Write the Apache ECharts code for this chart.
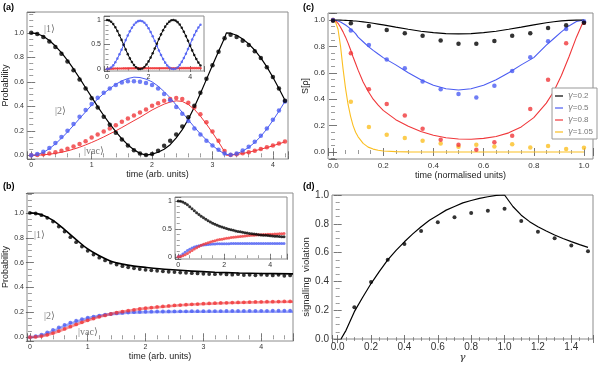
<!DOCTYPE html>
<html>
<head>
<meta charset="utf-8">
<script src="https://cdn.jsdelivr.net/npm/echarts@6/dist/echarts.min.js"></script>
<style>
html, body { margin: 0; padding: 0; background: #fff; }
#chart { width: 598px; height: 369px; }
</style>
</head>
<body>
<div id="chart"></div>
<script>
// ---- panel (a): theory lines ----
var aLineT = [0,0.1,0.2,0.3,0.4,0.5,0.6,0.7,0.8,0.9,1.0,1.1,1.2,1.3,1.4,1.5,1.6,1.7,1.8,1.9,2.0,2.1,2.2,2.3,2.4,2.5,2.6,2.7,2.8,2.9,3.0,3.1,3.2,3.23,3.3,3.4,3.5,3.6,3.7,3.8,3.9,4.0,4.1,4.2];
var aLine1 = [1.0,0.993,0.972,0.937,0.892,0.838,0.775,0.705,0.63,0.552,
  0.475,0.398,0.325,0.257,0.193,0.135,0.085,0.045,0.016,0.002,
  0.01,0.025,0.05,0.087,0.143,0.21,0.295,0.395,0.505,0.62,
  0.735,0.848,0.958,1.0,
  0.997,0.98,0.95,0.91,0.858,0.795,0.722,0.637,0.546,0.45];
var aLine2 = [0,0.006,0.024,0.054,0.093,0.14,0.19,0.245,0.3,0.355,
  0.41,0.46,0.505,0.545,0.58,0.608,0.627,0.638,0.635,0.622,
  0.6,0.565,0.52,0.47,0.41,0.35,0.29,0.23,0.175,0.125,
  0.08,0.042,0.012,0.006,
  0.001,0.012,0.035,0.065,0.105,0.155,0.215,0.285,0.36,0.44];
var aLineVac = [0,0.001,0.004,0.009,0.016,0.025,0.036,0.05,0.066,0.085,
  0.105,0.127,0.15,0.175,0.2,0.227,0.255,0.283,0.31,0.34,
  0.37,0.395,0.418,0.435,0.445,0.44,0.415,0.375,0.32,0.255,
  0.185,0.11,0.03,0,
  0.002,0.007,0.015,0.025,0.037,0.05,0.063,0.078,0.094,0.11];
// panel (a): measured points
var aDotT = [0,0.1,0.2,0.3,0.4,0.5,0.6,0.7,0.8,0.9,1.0,1.1,1.2,1.3,1.4,1.5,1.6,1.7,1.8,1.9,2.0,2.1,2.2,2.3,2.4,2.5,2.6,2.7,2.8,2.9,3.0,3.1,3.2,3.3,3.4,3.5,3.6,3.7,3.8,3.9,4.0,4.1,4.2];
var aDot1 = [1.0,0.99,0.965,0.93,0.885,0.83,0.765,0.695,0.62,0.545,
  0.465,0.39,0.315,0.25,0.185,0.13,0.08,0.042,0.015,0.003,
  0.01,0.038,0.078,0.12,0.17,0.235,0.31,0.405,0.51,0.625,
  0.735,0.845,0.955,0.985,0.965,0.935,0.9,0.85,0.795,0.72,
  0.64,0.545,0.445];
var aDot2 = [0,0.01,0.03,0.06,0.1,0.15,0.2,0.255,0.315,0.37,
  0.42,0.47,0.51,0.545,0.575,0.595,0.605,0.605,0.6,0.59,
  0.575,0.545,0.5,0.45,0.395,0.34,0.28,0.22,0.17,0.12,
  0.08,0.045,0.015,0.005,0.015,0.04,0.07,0.11,0.16,0.22,
  0.29,0.365,0.44];
var aDotVac = [0,0.003,0.008,0.015,0.025,0.038,0.053,0.072,0.093,0.115,
  0.145,0.17,0.195,0.22,0.245,0.275,0.3,0.325,0.35,0.375,
  0.405,0.425,0.445,0.46,0.468,0.46,0.43,0.39,0.335,0.27,
  0.195,0.118,0.036,0.003,0.008,0.016,0.026,0.038,0.052,0.066,
  0.08,0.097,0.113];
// inset of (a)
var aInT = [0,0.1,0.2,0.3,0.4,0.5,0.6,0.7,0.8,0.9,1.0,1.1,1.2,1.3,1.4,1.5,1.6,1.7,1.8,1.9,2.0,2.1,2.2,2.3,2.4,2.5,2.6,2.7,2.8,2.9,3.0,3.1,3.2,3.3,3.4,3.5,3.6,3.7,3.8,3.9,4.0,4.1,4.2,4.3,4.4,4.5];
var aIn1 = [1,0.99,0.961,0.915,0.852,0.775,0.688,0.593,0.495,0.397,
  0.303,0.217,0.142,0.08,0.035,0.008,0.0,0.012,0.042,0.091,
  0.155,0.233,0.321,0.417,0.515,0.612,0.705,0.79,0.863,0.922,
  0.965,0.993,1.0,0.986,0.955,0.906,0.84,0.76,0.671,0.575,
  0.476,0.379,0.287,0.203,0.131,0.073];
var aIn2 = [0,0.005,0.03,0.075,0.137,0.213,0.3,0.394,0.491,0.589,
  0.682,0.767,0.842,0.903,0.948,0.975,0.983,0.972,0.943,0.895,
  0.831,0.754,0.667,0.572,0.475,0.378,0.286,0.202,0.13,0.072,
  0.03,0.005,0.0,0.005,0.032,0.08,0.145,0.224,0.312,0.407,
  0.505,0.601,0.692,0.775,0.846,0.903];
var aInVac = [0,0.003,0.006,0.008,0.01,0.011,0.012,0.012,0.013,0.013,
  0.013,0.014,0.014,0.014,0.015,0.015,0.015,0.015,0.015,0.015,
  0.016,0.016,0.016,0.016,0.016,0.016,0.016,0.017,0.017,0.017,
  0.017,0.017,0.017,0.017,0.017,0.017,0.018,0.018,0.018,0.018,
  0.018,0.018,0.018,0.018,0.018,0.018];

// ---- panel (b) ----
var bLineT = [0,0.2,0.4,0.6,0.8,1.0,1.2,1.4,1.6,1.8,2.0,2.4,2.8,3.2,3.6,4.0,4.55];
var bLine1 = [1.0,0.985,0.94,0.865,0.785,0.71,0.655,0.612,0.588,0.572,0.562,0.545,0.532,0.523,0.517,0.513,0.51];
var bLine2 = [0,0.015,0.05,0.09,0.125,0.152,0.172,0.185,0.194,0.199,0.202,0.204,0.205,0.205,0.205,0.205,0.205];
var bLineVac = [0,0.008,0.032,0.066,0.102,0.136,0.165,0.188,0.206,0.22,0.232,0.25,0.263,0.272,0.278,0.282,0.286];
var bDotT = [0,0.1,0.2,0.3,0.4,0.5,0.6,0.7,0.8,0.9,1.0,1.1,1.2,1.3,1.4,1.5,1.6,1.7,1.8,1.9,2.0,2.1,2.2,2.3,2.4,2.5,2.6,2.7,2.8,2.9,3.0,3.1,3.2,3.3,3.4,3.5,3.6,3.7,3.8,3.9,4.0,4.1,4.2,4.3,4.4,4.5];
var bDot1 = [1.0,0.995,0.982,0.96,0.93,0.89,0.85,0.805,0.765,0.73,
  0.695,0.665,0.64,0.618,0.6,0.585,0.572,0.562,0.555,0.548,
  0.542,0.538,0.535,0.53,0.527,0.524,0.52,0.518,0.515,0.513,
  0.51,0.508,0.507,0.51,0.505,0.503,0.507,0.5,0.502,0.498,
  0.503,0.5,0.497,0.502,0.494,0.497];
var bDot2 = [0,0.008,0.022,0.04,0.06,0.08,0.1,0.118,0.133,0.146,
  0.157,0.166,0.174,0.181,0.187,0.192,0.196,0.199,0.202,0.204,
  0.205,0.206,0.207,0.207,0.208,0.208,0.209,0.209,0.21,0.21,
  0.21,0.211,0.211,0.211,0.212,0.212,0.212,0.212,0.213,0.213,
  0.213,0.213,0.214,0.214,0.214,0.214];
var bDotVac = [0,0.003,0.01,0.02,0.034,0.05,0.067,0.085,0.103,0.12,
  0.136,0.15,0.164,0.176,0.187,0.197,0.206,0.214,0.221,0.228,
  0.234,0.239,0.244,0.248,0.252,0.256,0.259,0.262,0.265,0.267,
  0.27,0.272,0.274,0.276,0.277,0.279,0.28,0.281,0.283,0.284,
  0.285,0.286,0.286,0.287,0.288,0.288];
// inset of (b)
var bInT = [0,0.1,0.2,0.3,0.4,0.5,0.6,0.7,0.8,0.9,1.0,1.1,1.2,1.3,1.4,1.5,1.6,1.7,1.8,1.9,2.0,2.1,2.2,2.3,2.4,2.5,2.6,2.7,2.8,2.9,3.0,3.1,3.2,3.3,3.4,3.5,3.6,3.7,3.8,3.9,4.0,4.1,4.2,4.3,4.4,4.5,4.6];
var bIn1 = [1.0,0.995,0.98,0.958,0.93,0.895,0.86,0.825,0.79,0.758,
  0.727,0.698,0.67,0.645,0.622,0.601,0.582,0.564,0.548,0.533,
  0.519,0.506,0.494,0.483,0.473,0.463,0.454,0.446,0.438,0.431,
  0.424,0.418,0.412,0.406,0.401,0.396,0.391,0.387,0.383,0.379,
  0.375,0.372,0.369,0.366,0.363,0.36,0.357];
var bIn2 = [0,0.02,0.05,0.08,0.11,0.135,0.157,0.174,0.188,0.198,
  0.206,0.212,0.217,0.221,0.224,0.227,0.229,0.231,0.232,0.233,
  0.234,0.235,0.235,0.236,0.236,0.236,0.237,0.237,0.237,0.237,
  0.237,0.237,0.238,0.238,0.238,0.238,0.238,0.238,0.238,0.238,
  0.238,0.238,0.238,0.238,0.238,0.238,0.238];
var bInVac = [0,0.005,0.018,0.037,0.06,0.087,0.113,0.138,0.162,0.185,
  0.205,0.222,0.238,0.252,0.265,0.277,0.288,0.298,0.307,0.315,
  0.323,0.33,0.337,0.343,0.349,0.354,0.359,0.364,0.368,0.372,
  0.376,0.38,0.383,0.386,0.389,0.392,0.394,0.397,0.399,0.401,
  0.403,0.405,0.407,0.409,0.411,0.413,0.415];

// ---- panel (c) ----
var cNames = ['γ=0.2', 'γ=0.5', 'γ=0.8', 'γ=1.05'];
var cLineT = [0,0.01,0.02,0.03,0.04,0.05,0.06,0.07,0.08,0.09,0.1,0.12,0.14,0.16,0.18,0.2,0.25,0.3,0.35,0.4,0.45,0.5,0.55,0.6,0.65,0.7,0.75,0.8,0.85,0.88,0.91,0.94,0.97,1.0];
var cLine02 = [1.0,1.0,1.0,0.999,0.998,0.997,0.996,0.995,0.993,0.992,0.99,0.986,0.981,0.975,0.969,0.963,0.946,0.93,0.915,0.904,0.897,0.895,0.897,0.904,0.915,0.93,0.946,0.963,0.979,0.987,0.993,0.997,0.999,1.0];
var cLine05 = [1.0,0.998,0.993,0.985,0.974,0.962,0.948,0.932,0.915,0.897,0.87,0.835,0.8,0.77,0.742,0.715,0.66,0.6,0.547,0.505,0.479,0.47,0.479,0.505,0.547,0.6,0.66,0.715,0.81,0.86,0.91,0.955,0.988,1.0];
var cLine08 = [1.0,0.995,0.975,0.945,0.91,0.87,0.825,0.775,0.72,0.67,0.62,0.53,0.46,0.4,0.355,0.315,0.245,0.195,0.155,0.127,0.108,0.098,0.097,0.103,0.118,0.145,0.19,0.26,0.37,0.46,0.58,0.72,0.87,1.0];
var cLine105 = [1.0,0.985,0.93,0.8,0.63,0.48,0.36,0.27,0.2,0.15,0.115,0.065,0.037,0.022,0.013,0.008,0.003,0.001,0,0,0,0,0,0,0,0,0,0,0,0,0,0,0,0];
var cDotT = [0,0.071,0.143,0.214,0.286,0.357,0.429,0.5,0.571,0.643,0.714,0.786,0.857,0.929,1.0];
var cDot02 = [0.995,0.975,0.955,0.925,0.9,0.88,0.844,0.82,0.82,0.84,0.88,0.9,0.94,0.96,0.98];
var cDot05 = [1.0,0.92,0.81,0.70,0.635,0.534,0.476,0.44,0.413,0.501,0.614,0.718,0.839,0.932,0.99];
var cDot08 = [1.0,0.748,0.476,0.363,0.277,0.176,0.093,0.055,0.018,0.073,0.123,0.325,0.547,0.824,0.98];
var cDot105 = [1.0,0.38,0.19,0.13,0.107,0.085,0.065,0.04,0.055,0.042,0.058,0.035,0.046,0.022,0.033];

// ---- panel (d) ----
var dLineG = [0.02,0.05,0.1,0.15,0.2,0.25,0.3,0.35,0.4,0.45,0.5,0.55,0.6,0.65,0.7,0.75,0.8,0.85,0.9,0.95,1.0,1.05,1.1,1.15,1.2,1.25,1.3,1.35,1.4,1.45,1.5];
var dLineV = [0,0.06,0.19,0.29,0.385,0.47,0.55,0.615,0.675,0.73,0.78,0.825,0.86,0.895,0.92,0.945,0.962,0.977,0.988,0.997,1.0,0.92,0.86,0.815,0.78,0.75,0.722,0.698,0.676,0.655,0.636];
var dDotG = [0.1,0.2,0.3,0.4,0.5,0.6,0.7,0.8,0.9,1.0,1.1,1.2,1.3,1.4,1.5];
var dDotV = [0.22,0.395,0.55,0.66,0.75,0.81,0.845,0.875,0.89,0.905,0.82,0.745,0.70,0.65,0.61];

var BLACK = '#000000', BLUE = '#4b5cf2', RED = '#f0373a', GOLD = '#fbbf22';
var FONT = 'Liberation Sans, Arial, sans-serif';
var FRAME = '#8c8c8c', TICK = '#555555';

function zip(xs, ys) {
    var out = [];
    for (var i = 0; i < xs.length; i++) out.push([xs[i], ys[i]]);
    return out;
}
function fmt1(v) { return v.toFixed(1); }
function fmtShort(v) { return String(Math.round(v * 10) / 10); }

// one panel = one grid + 4 axes (labelled bottom/left, bare top/right)
var grids = [], xAxes = [], yAxes = [], series = [];
function panel(box, x, y, opt) {
    var g = grids.length;
    var z = opt.inset ? 10 : 0;
    grids.push({ left: box[0], top: box[1], right: box[2], bottom: box[3], show: true,
        borderColor: FRAME, borderWidth: 1, backgroundColor: '#fff', z: z });
    function ax(r, pos, lab, name, gap) {
        var nice = function (v) { return Math.abs(v / r[2] - Math.round(v / r[2])) < 1e-6; };
        return {
            type: 'value', gridIndex: g, position: pos, min: r[0], max: r[1],
            minInterval: r[2], maxInterval: r[2], splitNumber: Math.round((r[1] - r[0]) / r[2]),
            z: z + 2,
            axisLine: { show: false }, splitLine: { show: false },
            axisTick: { show: true, inside: true, length: opt.tick || 4, lineStyle: { color: TICK, width: 0.8 } },
            minorTick: { show: true, splitNumber: r[3], length: (opt.tick || 4) / 2, lineStyle: { color: TICK, width: 0.6 } },
            axisLabel: { show: lab, color: '#333', fontSize: opt.fs, fontFamily: FONT, margin: 3,
                showMinLabel: nice(r[0]), showMaxLabel: nice(r[1]), formatter: r[4] },
            name: name || '', nameLocation: 'middle', nameGap: gap || 0,
            nameTextStyle: { color: '#222', fontSize: 9, fontFamily: FONT }
        };
    }
    xAxes.push(ax(x, 'bottom', true, opt.xName, opt.xGap));
    xAxes.push(ax(x, 'top', false));
    yAxes.push(ax(y, 'left', true, opt.yName, opt.yGap));
    yAxes.push(ax(y, 'right', false));
    return g;
}
function addLine(g, xs, ys, color, width, z, name, opacity) {
    series.push({ type: 'line', name: name, xAxisIndex: 2 * g, yAxisIndex: 2 * g, data: zip(xs, ys),
        symbol: 'none', silent: true, z: z, animation: false,
        lineStyle: { color: color, width: width, opacity: opacity == null ? 1 : opacity },
        itemStyle: { color: color } });
}
function addDots(g, xs, ys, color, size, z) {
    series.push({ type: 'scatter', xAxisIndex: 2 * g, yAxisIndex: 2 * g, data: zip(xs, ys),
        symbolSize: size, silent: true, z: z, animation: false, itemStyle: { color: color } });
}

// (a)
var gA = panel([27, 12, 310, 210], [-0.07, 4.25, 1, 5, fmtShort], [-0.03, 1.17, 0.2, 4, fmt1],
    { fs: 7, xName: 'time (arb. units)', xGap: 10, yName: 'Probability', yGap: 14 });
addLine(gA, aLineT, aLineVac, RED, 1, 2);
addLine(gA, aLineT, aLine2, BLUE, 1, 2);
addLine(gA, aLineT, aLine1, BLACK, 1.2, 2);
addDots(gA, aDotT, aDotVac, RED, 4.5, 3);
addDots(gA, aDotT, aDot2, BLUE, 4.5, 3);
addDots(gA, aDotT, aDot1, BLACK, 4.5, 3);
// (a) inset
var gAi = panel([104, 16, 394, 298], [-0.145, 4.67, 2, 4, fmtShort], [-0.04, 1.08, 0.5, 5, fmtShort],
    { fs: 7, inset: true, tick: 3 });
addLine(gAi, aInT, aInVac, RED, 1, 12);
addLine(gAi, aInT, aIn2, BLUE, 1, 12);
addLine(gAi, aInT, aIn1, BLACK, 1, 12);
addDots(gAi, aInT, aInVac, RED, 2.6, 13);
addDots(gAi, aInT, aIn2, BLUE, 2.6, 13);
addDots(gAi, aInT, aIn1, BLACK, 2.6, 13);

// (b)
var gB = panel([27, 193, 305, 28], [-0.05, 4.55, 1, 5, fmtShort], [-0.03, 1.16, 0.2, 4, fmt1],
    { fs: 7, xName: 'time (arb. units)', xGap: 10, yName: 'Probability', yGap: 14 });
addLine(gB, bLineT, bLine2, BLUE, 2.6, 2, null, 0.55);
addLine(gB, bLineT, bLineVac, RED, 2.6, 2, null, 0.55);
addLine(gB, bLineT, bLine1, BLACK, 1.6, 2);
addDots(gB, bDotT, bDot2, BLUE, 3.8, 3);
addDots(gB, bDotT, bDotVac, RED, 3.8, 3);
addDots(gB, bDotT, bDot1, BLACK, 3.8, 3);
series.forEach(function (s) { if (s.xAxisIndex === 2 * gB && s.type === 'line') s.smooth = 0.35; });
// (b) inset
var gBi = panel([175, 197, 311, 110], [-0.14, 4.73, 2, 4, fmtShort], [-0.04, 1.07, 0.5, 5, fmtShort],
    { fs: 7, inset: true, tick: 3 });
addDots(gBi, bInT, bIn2, BLUE, 3, 13);
addDots(gBi, bInT, bInVac, RED, 3, 13);
addDots(gBi, bInT, bIn1, BLACK, 3, 13);

// (c)
var gC = panel([328, 13, 5, 210], [-0.02, 1.036, 0.2, 4, fmt1], [-0.053, 1.053, 0.2, 4, fmt1],
    { fs: 8, xName: 'time (normalised units)', xGap: 11, yName: 'S[ρ]', yGap: 14 });
addLine(gC, cLineT, cLine105, GOLD, 1.1, 2, cNames[3]);
addLine(gC, cLineT, cLine08, RED, 1.1, 2, cNames[2]);
addLine(gC, cLineT, cLine05, BLUE, 1.1, 2, cNames[1]);
addLine(gC, cLineT, cLine02, BLACK, 1.1, 2, cNames[0]);
addDots(gC, cDotT, cDot105, GOLD, 4.5, 3);
addDots(gC, cDotT, cDot08, RED, 4.5, 3);
addDots(gC, cDotT, cDot05, BLUE, 4.5, 3);
addDots(gC, cDotT, cDot02, BLACK, 4.5, 3);

// (d)
var gD = panel([332, 195, 5, 30], [-0.034, 1.53, 0.2, 4, fmt1], [0, 1, 0.2, 4, fmt1],
    { fs: 10, xName: 'γ', xGap: 13, yName: 'signalling  violation', yGap: 15 });
addLine(gD, dLineG, dLineV, BLACK, 1.2, 2);
addDots(gD, dDotG, dDotV, BLACK, 4, 3);
// d axis names slightly larger; y title sits a little below the axis middle
xAxes[2 * gD].nameTextStyle = { color: '#222', fontSize: 10, fontFamily: 'DejaVu Serif', fontStyle: 'italic' };
yAxes[2 * gD].nameTextStyle = { color: '#222', fontSize: 9.5, fontFamily: FONT, padding: [0, 20, 0, 0] };

function txt(x, y, s, font, fill) {
    return { type: 'text', x: x, y: y, z: 50, silent: true,
        style: { text: s, font: font, fill: fill || '#000', align: 'left', verticalAlign: 'top' } };
}
var KET = '10px "Liberation Serif", "DejaVu Serif", serif';
var PANEL = 'bold 9px "Liberation Sans", Arial, sans-serif';

var chart = echarts.init(document.getElementById('chart'), null, { renderer: 'canvas' });
chart.setOption({
    animation: false,
    backgroundColor: '#fff',
    grid: grids,
    xAxis: xAxes,
    yAxis: yAxes,
    series: series,
    legend: {
        data: cNames, orient: 'vertical', right: 1, top: 88,
        icon: 'rect', itemWidth: 8, itemHeight: 1.2, itemGap: 4,
        padding: [4, 4, 3, 3], borderColor: '#999', borderWidth: 1, backgroundColor: '#fff',
        selectedMode: false,
        formatter: function (n) { return '{g|γ}{t|' + n.slice(1) + '}'; },
        textStyle: { color: '#777', fontSize: 8, fontFamily: FONT, padding: [0, 0, 0, 0],
            rich: { g: { fontStyle: 'italic', fontSize: 8, color: '#777', fontFamily: 'DejaVu Sans' },
                    t: { fontSize: 8, color: '#777', fontFamily: FONT } } }
    },
    graphic: [
        txt(3, 3, '(a)', PANEL), txt(303, 3, '(c)', PANEL),
        txt(3, 182, '(b)', PANEL), txt(303, 182, '(d)', PANEL),
        txt(44, 24, '|1⟩', KET, '#777'), txt(55, 106, '|2⟩', KET, '#777'), txt(84, 146, '|vac⟩', KET, '#777'),
        txt(34, 230, '|1⟩', KET, '#777'), txt(44, 311, '|2⟩', KET, '#777'), txt(78, 327, '|vac⟩', KET, '#777')
    ]
});
</script>
</body>
</html>
